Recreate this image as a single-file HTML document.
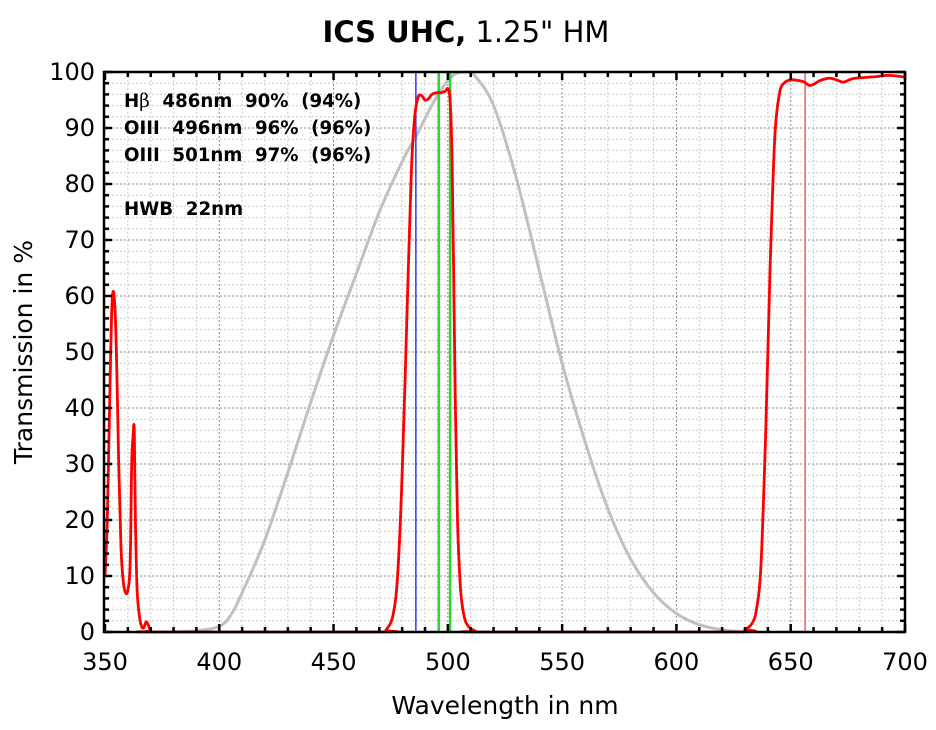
<!DOCTYPE html>
<html><head><meta charset="utf-8"><style>
html,body{margin:0;padding:0;background:#fff;}
svg{display:block;font-family:"DejaVu Sans","Liberation Sans",sans-serif;}
</style></head><body>
<svg id="s" width="936" height="730" viewBox="0 0 936 730" xmlns="http://www.w3.org/2000/svg">
<rect width="936" height="730" fill="#fff"/>
<text x="466" y="42" text-anchor="middle" font-size="29"><tspan font-weight="bold">ICS UHC,</tspan> 1.25" HM</text>
<g id="grid"></g>
<g id="curves"></g>
<rect x="104" y="72" width="801" height="560" fill="none" stroke="#000" stroke-width="2.5"/>
<g id="ticks"></g>
<g font-size="18.2" font-weight="bold" style="white-space:pre">
<text x="124" y="107" xml:space="preserve">H<tspan font-family="DejaVu Serif,serif" font-weight="normal">β</tspan>  486nm  90%  (94%)</text>
<text x="124" y="134" xml:space="preserve">OIII  496nm  96%  (96%)</text>
<text x="124" y="161" xml:space="preserve">OIII  501nm  97%  (96%)</text>
<text x="124" y="215" xml:space="preserve">HWB  22nm</text>
</g>
<text x="505" y="714" text-anchor="middle" font-size="25">Wavelength in nm</text>
<text transform="translate(32,352) rotate(-90)" text-anchor="middle" font-size="25">Transmission in %</text>
</svg>
<script>
var X=function(n){return 105+(n-350)*800/350;}, Y=function(t){return 632-t*5.6;};
var ns="http://www.w3.org/2000/svg",g=document.getElementById('grid'),tk=document.getElementById('ticks'),cv=document.getElementById('curves');
function el(p,tag,a,txt){var e=document.createElementNS(ns,tag);for(var k in a)e.setAttribute(k,a[k]);if(txt!=null)e.textContent=txt;p.appendChild(e);return e;}
for(var n=360;n<700;n+=10){var maj=n%50==0;el(g,'line',{x1:X(n),x2:X(n),y1:72,y2:632,stroke:maj?'#888':'#ccc','stroke-width':1,'stroke-dasharray':'2,2'});}
for(var t=2;t<100;t+=2){var maj=t%10==0;el(g,'line',{x1:104,x2:905,y1:Y(t),y2:Y(t),stroke:maj?'#888':'#ccc','stroke-width':1,'stroke-dasharray':'2,2'});}
for(var n=350;n<=700;n+=10){var maj=n%50==0,x=X(n),L=maj?8:5;el(tk,'line',{x1:x,x2:x,y1:632,y2:632-L,stroke:'#000','stroke-width':2.5});el(tk,'line',{x1:x,x2:x,y1:72,y2:72+L,stroke:'#000','stroke-width':2.5});if(maj)el(tk,'text',{x:x,y:670,'text-anchor':'middle','font-size':24},n);}
for(var t=0;t<=100;t+=2){var maj=t%10==0,y=Y(t),L=maj?8:5;el(tk,'line',{x1:104,x2:104+L,y1:y,y2:y,stroke:'#000','stroke-width':2.5});el(tk,'line',{x1:905,x2:905-L,y1:y,y2:y,stroke:'#000','stroke-width':2.5});if(maj)el(tk,'text',{x:95,y:y+8,'text-anchor':'end','font-size':24},t);}
function path(pts,col,w){var P=pts.map(function(p){return [X(p[0]),Y(p[1])];});var d='M'+P[0][0].toFixed(1)+' '+P[0][1].toFixed(1);
for(var i=0;i<P.length-1;i++){var p0=P[i-1]||P[i],p1=P[i],p2=P[i+1],p3=P[i+2]||P[i+1];
var c1=[p1[0]+(p2[0]-p0[0])/6,p1[1]+(p2[1]-p0[1])/6],c2=[p2[0]-(p3[0]-p1[0])/6,p2[1]-(p3[1]-p1[1])/6];
c1[1]=Math.min(c1[1],632);c2[1]=Math.min(c2[1],632);
d+='C'+c1[0].toFixed(1)+' '+c1[1].toFixed(1)+' '+c2[0].toFixed(1)+' '+c2[1].toFixed(1)+' '+p2[0].toFixed(1)+' '+p2[1].toFixed(1);}
el(cv,'path',{d:d,fill:'none',stroke:col,'stroke-width':w,'stroke-linejoin':'round'});}
path([[380,0],[390,0.2],[400,1],[405,3],[410,7],[420,16.5],[430,28.5],[440,41],[450,53],[460,64],[470,75],[480,84],[486,88.5],[495,95.5],[502,99.3],[508,100],[512,99.2],[520,94],[530,81],[540,64.5],[550,48],[560,34],[570,22],[580,13],[590,7],[600,3.3],[610,1.3],[620,0.4],[630,0]],'#c0c0c0',3);
el(cv,'line',{x1:X(486),x2:X(486),y1:72,y2:632,stroke:'#3333ff','stroke-width':1.5});
el(cv,'line',{x1:X(496),x2:X(496),y1:72,y2:632,stroke:'#22dd22','stroke-width':2.5});
el(cv,'line',{x1:X(501),x2:X(501),y1:72,y2:632,stroke:'#22dd22','stroke-width':2.5});
el(cv,'line',{x1:X(656.3),x2:X(656.3),y1:72,y2:632,stroke:'#f06060','stroke-width':1.5});
path([[350,10],[351,20],[352,40],[353,58],[354,60],[355,50],[356,30],[357,15],[358,9],[359,7],[360,7.5],[361,12],[361.7,30],[362.3,35],[362.8,36],[363.3,20],[364,8],[365,3],[366,1],[367,0.8],[368,1.8],[369,1.2],[370,0.2],[372,0],[470,0],[473,0.4],[476,3],[478,10],[480,28],[482,55],[484,82],[485.5,92],[487,95.5],[488.5,95.8],[490,95],[491.5,95.2],[493,96],[495,96.3],[497,96.3],[499,96.6],[500,97],[501,95],[501.8,85],[502.5,65],[503.3,40],[504.2,20],[505.5,8],[507,3],[509,1],[512,0.2],[515,0],[625,0],[630,0.5],[633,1.5],[635,4],[637,12],[639,35],[641,65],[643,88],[645,96],[647,98],[650,98.6],[653,98.5],[656,98.2],[658,97.6],[660,97.8],[663,98.5],[667,98.9],[670,98.6],[673,98.2],[677,98.8],[682,99],[688,99.2],[693,99.4],[700,99.1]],'#ff0000',2.8);
</script>
</body></html>
